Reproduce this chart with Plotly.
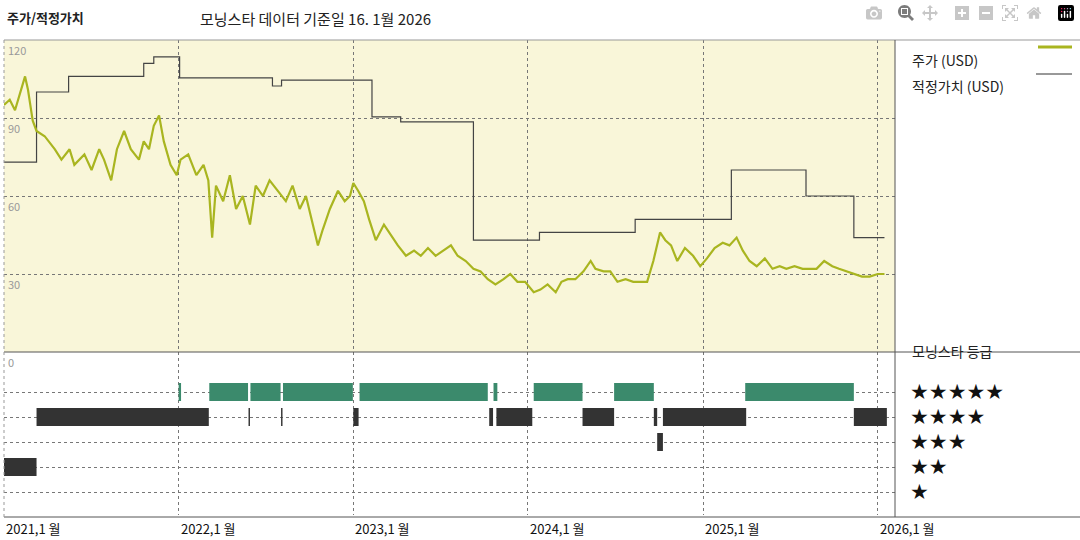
import plotly.graph_objects as go

price_dates = ["2021-01-01","2021-01-13","2021-01-24","2021-02-03","2021-02-14","2021-02-20","2021-03-02","2021-03-10",
"2021-03-27","2021-04-17","2021-05-01","2021-05-18","2021-05-28","2021-06-18","2021-07-03","2021-07-19","2021-07-29",
"2021-08-13","2021-08-25","2021-09-09","2021-09-23","2021-10-10","2021-10-20","2021-10-31","2021-11-10","2021-11-21",
"2021-12-01","2021-12-15","2021-12-28","2022-01-05","2022-01-21","2022-02-07","2022-02-22","2022-03-04","2022-03-12",
"2022-03-20","2022-04-04","2022-04-18","2022-05-01","2022-05-15","2022-05-30","2022-06-11","2022-06-26","2022-07-10",
"2022-07-27","2022-08-13","2022-08-27","2022-09-11","2022-09-24","2022-10-08","2022-10-19","2022-10-29","2022-11-13",
"2022-11-30","2022-12-14","2022-12-25","2023-01-01","2023-01-11","2023-01-23","2023-02-03","2023-02-17","2023-03-06",
"2023-03-21","2023-04-04","2023-04-21","2023-05-08","2023-05-22","2023-06-06","2023-06-22","2023-07-09","2023-07-24",
"2023-08-07","2023-08-24","2023-09-09","2023-09-24","2023-10-09","2023-10-25","2023-11-11","2023-11-25","2023-12-10",
"2023-12-26","2024-01-13","2024-01-27","2024-02-11","2024-02-28","2024-03-11","2024-03-24","2024-04-09","2024-04-26",
"2024-05-11","2024-05-21","2024-06-07","2024-06-21","2024-07-06","2024-07-23","2024-08-08","2024-08-23","2024-09-06",
"2024-09-19","2024-10-03","2024-10-14","2024-10-26","2024-11-08","2024-11-24","2024-12-11","2024-12-26","2025-01-09",
"2025-01-25","2025-02-11","2025-02-25","2025-03-12","2025-03-25","2025-04-08","2025-04-23","2025-05-10","2025-05-26",
"2025-06-10","2025-06-24","2025-07-11","2025-07-28","2025-08-11","2025-08-26","2025-09-11","2025-09-28","2025-10-12",
"2025-10-27","2025-11-12","2025-11-29","2025-12-15","2026-01-01","2026-01-15"]
price = [95,97,93,99,106,101,89,85,83,78,74,78,72,76,70,78,74,66,78,85,78,74,81,78,87,91,81,72,68,
74,76,68,72,66,44,64,58,68,55,60,49,64,60,66,62,58,64,55,60,49,41,47,55,62,58,60,
65,62,58,51,43,49,45,41,37,39,37,40,37,39,41,37,35,32,31,28,26,28,30,27,27,
23,24,26,23,27,28,28,31,35,32,31,31,27,28,27,27,27,35,46,43,41,35,40,37,33,
36,40,42,41,44,39,35,33,36,32,33,32,33,32,32,32,35,33,32,31,30,29,29,30,30]

fv_dates = ["2021-01-01","2021-03-10","2021-05-16","2021-10-20","2021-11-10","2022-01-03","2022-07-16","2022-08-04",
"2023-02-09","2023-04-10","2023-09-09","2024-01-25","2024-08-12","2025-03-01","2025-08-04","2025-11-12","2026-01-15"]
fair_value = [73,100,106,111,113.5,105.4,102.3,104.6,90.4,88.5,43,46,51,70,60,44,44]

# (start, end, stars)
rating_periods = [
    ("2021-01-01","2021-03-10",2),
    ("2021-03-10","2022-03-05",4),("2022-05-27","2022-05-30",4),("2022-08-03","2022-08-06",4),
    ("2023-01-01","2023-01-12",4),("2023-10-12","2023-10-20",4),("2023-10-27","2024-01-10",4),
    ("2024-04-24","2024-06-29",4),("2024-09-20","2024-09-27",4),("2024-10-09","2025-04-01",4),
    ("2025-11-12","2026-01-20",4),
    ("2022-01-01","2022-01-06",5),("2022-03-06","2022-05-26",5),("2022-05-31","2022-08-02",5),
    ("2022-08-07","2022-12-31",5),("2023-01-14","2023-10-09",5),("2023-10-21","2023-10-29",5),
    ("2024-01-13","2024-04-24",5),("2024-06-29","2024-09-20",5),("2025-03-30","2025-11-12",5),
    ("2024-09-27","2024-10-09",3),
]
year_ticks = ["2021-01-01","2022-01-01","2023-01-01","2024-01-01","2025-01-01","2026-01-01"]
year_labels = ["2021,1 월","2022,1 월","2023,1 월","2024,1 월","2025,1 월","2026,1 월"]
price_ticks = [120, 90, 60, 30]
star_rows = [5, 4, 3, 2, 1]

GREEN = "#a9b520"
FONT = "Noto Sans CJK KR"

fig = go.Figure()
fig.add_trace(go.Scatter(x=fv_dates, y=fair_value, mode="lines", line=dict(color="#444", width=1.2, shape="hv"),
                         xaxis="x", yaxis="y"))
fig.add_trace(go.Scatter(x=price_dates, y=price, mode="lines", line=dict(color=GREEN, width=2.2),
                         xaxis="x", yaxis="y"))

for color, stars_set in [("#333333", (2, 3, 4)), ("#3b8a6c", (5,))]:
    xs, ys = [], []
    for s, e, r in rating_periods:
        if r in stars_set:
            xs += [s, e, None]
            ys += [r, r, None]
    fig.add_trace(go.Scatter(x=xs, y=ys, mode="lines", line=dict(color=color, width=18),
                             xaxis="x2", yaxis="y2"))

xr = ["2021-01-01", "2026-02-06"]
grid = dict(showgrid=True, gridcolor="#777", griddash="dot", gridwidth=1)
fig.update_layout(
    width=1080, height=540, margin=dict(l=0, r=0, t=0, b=0),
    paper_bgcolor="white", plot_bgcolor="rgba(0,0,0,0)", showlegend=False,
    font=dict(family=FONT, size=13, color="#222"),
    xaxis=dict(domain=[4/1080, 895/1080], range=xr, type="date", tickvals=year_ticks, showticklabels=False,
               anchor="y", **grid, zeroline=False),
    yaxis=dict(domain=[188/540, 500/540], range=[0, 120], tickvals=price_ticks[1:], showticklabels=False,
               **grid, zeroline=False),
    xaxis2=dict(domain=[4/1080, 895/1080], range=xr, type="date", tickvals=year_ticks, showticklabels=False,
                anchor="y2", **grid, zeroline=False),
    yaxis2=dict(domain=[25/540, 188/540], range=[0.08, 6.6], tickvals=star_rows, showticklabels=False,
                **grid, zeroline=False),
)

# panel backgrounds and borders
fig.add_shape(type="rect", xref="x domain", yref="y domain", x0=0, x1=1, y0=0, y1=1,
              fillcolor="#f9f6d9", line=dict(width=0), layer="below")
fig.add_shape(type="line", xref="paper", yref="paper", x0=4/1080, x1=1, y0=500/540, y1=500/540, line=dict(color="#999", width=1))
fig.add_shape(type="line", xref="paper", yref="paper", x0=4/1080, x1=1, y0=188/540, y1=188/540, line=dict(color="#555", width=1))
fig.add_shape(type="line", xref="paper", yref="paper", x0=4/1080, x1=1, y0=23/540, y1=23/540, line=dict(color="#555", width=1))
fig.add_shape(type="line", xref="paper", yref="paper", x0=895/1080, x1=895/1080, y0=23/540, y1=500/540, line=dict(color="#555", width=1))
fig.add_shape(type="line", xref="paper", yref="paper", x0=4/1080, x1=4/1080, y0=23/540, y1=500/540, line=dict(color="#999", width=1, dash="dot"))

for v in price_ticks:
    fig.add_annotation(xref="paper", yref="y", x=6/1080, y=v, text=str(v), showarrow=False, xanchor="left",
                       yanchor="top", font=dict(size=11, color="#999"))
fig.add_annotation(xref="paper", yref="y2", x=6/1080, y=6.6, text="0", showarrow=False, xanchor="left",
                   yanchor="top", font=dict(size=11, color="#999"))
for d, lab in zip(year_ticks, year_labels):
    fig.add_annotation(xref="x2", yref="paper", x=d, y=23/540, text=lab, showarrow=False, xanchor="left",
                       yanchor="top", font=dict(size=13, color="#111"))

fig.add_annotation(xref="paper", yref="paper", x=5/1080, y=1-6/540, text="<b>주가/적정가치</b>", showarrow=False,
                   xanchor="left", yanchor="top", font=dict(size=13))
fig.add_annotation(xref="paper", yref="paper", x=198/1080, y=1-6/540, text="모닝스타 데이터 기준일 16. 1월 2026",
                   showarrow=False, xanchor="left", yanchor="top", font=dict(size=15))

# right legend
fig.add_annotation(xref="paper", yref="paper", x=910/1080, y=1-48/540, text="주가 (USD)", showarrow=False,
                   xanchor="left", font=dict(size=14))
fig.add_shape(type="line", xref="paper", yref="paper", x0=1038/1080, x1=1072/1080, y0=1-47/540, y1=1-47/540,
              line=dict(color=GREEN, width=3))
fig.add_annotation(xref="paper", yref="paper", x=910/1080, y=1-74/540, text="적정가치 (USD)", showarrow=False,
                   xanchor="left", font=dict(size=14))
fig.add_shape(type="line", xref="paper", yref="paper", x0=1036/1080, x1=1072/1080, y0=1-74/540, y1=1-74/540,
              line=dict(color="#333", width=1))
fig.add_annotation(xref="paper", yref="paper", x=910/1080, y=1-363/540, text="모닝스타 등급", showarrow=False,
                   xanchor="left", font=dict(size=14))
for r in star_rows:
    fig.add_annotation(xref="paper", yref="y2", x=908/1080, y=r, text="★" * r, showarrow=False,
                       xanchor="left", font=dict(size=21, color="#111", family="DejaVu Sans"))

fig.write_html("out.html", post_script="document.body.style.margin='0';document.body.style.overflow='hidden';")
